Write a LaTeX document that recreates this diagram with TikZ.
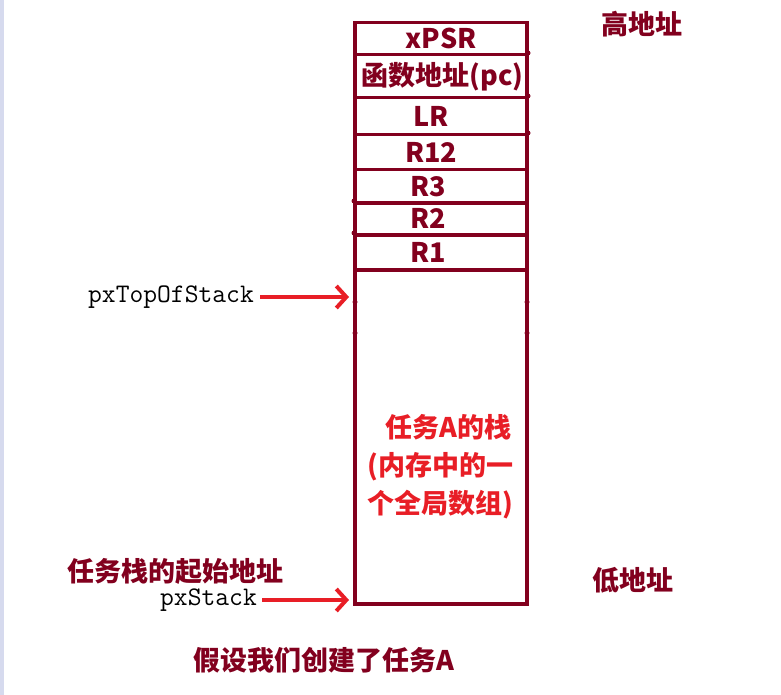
\documentclass[tikz,border=0pt]{standalone}
\usepackage{fontspec}
\usepackage{tikz}
\usetikzlibrary{arrows.meta}
\newfontfamily\hei{Noto Sans CJK SC}
\definecolor{dark-red}{RGB}{130,0,30}
\definecolor{arrow-red}{RGB}{232,30,38}
\definecolor{side-blue}{RGB}{214,218,238}
\newcommand*\hz{\hei\bfseries\fontsize{27}{38}\selectfont}
\newcommand*\tz{\ttfamily\fontsize{26.8}{30}\selectfont}

\begin{document}
\begin{tikzpicture}[x=1pt,y=-1pt,
				cell/.style={draw=dark-red,line width=3.5pt,minimum width=172pt,anchor=north,inner sep=0pt,text=dark-red,font=\hz},
				ptr/.style={draw=arrow-red,line width=4pt,-{Straight Barb[length=10pt,width=22pt]}},
				dot/.style={circle,fill=dark-red,inner sep=0pt,minimum size=5pt},
				addr/.style={text=dark-red,font=\hz,anchor=west,inner sep=0pt}]
				\useasboundingbox (0,0) rectangle (781,695);
				\fill[side-blue] (0,0) rectangle (4,695);
				% stack cells, top to bottom
				\node[cell,minimum height=32pt] (xpsr) at (441,21) {xPSR};
				\node[cell,minimum height=43pt] (pc) at (441,53) {\hspace*{3pt}函数地址(pc)};
				\node[cell,minimum height=37pt] (lr) at (441,96) {\raisebox{-3pt}{\hspace*{-20pt}LR}};
				\node[cell,minimum height=35pt] (r12) at (441,133) {\hspace*{-20pt}R12};
				\node[cell,minimum height=33pt] (r3) at (441,168) {\hspace*{-25pt}R3};
				\node[cell,minimum height=32pt] (r2) at (441,201) {\hspace*{-25pt}R2};
				\node[cell,minimum height=35pt] (r1) at (441,233) {\hspace*{-25pt}R1};
				\node[cell,minimum height=334pt] (free) at (441,268) {};
				\node[text=arrow-red,font=\hz,align=left,anchor=west,inner sep=0pt] (task) at (367,467)
					{\hspace*{18pt}任务A的栈\\(内存中的一\\个全局数组)};
				% small marks on the edges
				\foreach \y in {302,333} {
					\node[dot] at (355,\y) {};
					\node[dot] at (527,\y) {};
				}
				\foreach \y in {201,233} \node[dot] at (354,\y) {};
				\foreach \y in {53,96,133} \node[dot] at (528,\y) {};
				% addresses
				\node[addr] (high) at (601,24) {高地址};
				\node[addr] (low) at (592,580) {低地址};
				\node[addr] (start) at (67,571) {任务栈的起始地址};
				\node[font=\hz,text=dark-red,inner sep=0pt] (title) at (324,660) {假设我们创建了任务A};
				% pointers
				\node[font=\tz,anchor=east,inner sep=0pt] (top) at (254,297) {pxTopOfStack};
				\node[font=\tz,anchor=east,inner sep=0pt] (base) at (257,600) {pxStack};
				\coordinate (topend) at (349,297);
				\coordinate (baseend) at (349,600);
				\draw[ptr] ([xshift=6pt]top.east) -- (topend);
				\draw[ptr] ([xshift=5pt]base.east) -- (baseend);
\end{tikzpicture}
\end{document}
